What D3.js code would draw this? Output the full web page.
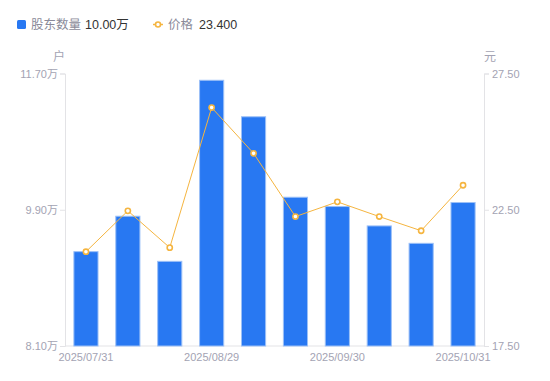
<!DOCTYPE html>
<html><head><meta charset="utf-8">
<script src="https://cdn.jsdelivr.net/npm/d3@7/dist/d3.min.js"></script>
<style>
body{margin:0;background:#fff;}
svg{display:block;font-family:"Liberation Sans","Noto Sans CJK SC",sans-serif;}
</style></head><body>
<svg id="c" width="550" height="381"></svg>
<script>
const categories = ["2025/07/31","2025/08/08","2025/08/20","2025/08/29","2025/09/10","2025/09/19","2025/09/30","2025/10/10","2025/10/20","2025/10/31"];
const holders = [9.353, 9.821, 9.225, 11.617, 11.135, 10.072, 9.949, 9.693, 9.463, 10.002]; // 万户
const prices = [20.96, 22.46, 21.11, 26.25, 24.57, 22.25, 22.79, 22.25, 21.73, 23.40];
const leftTicks = [8.10, 9.90, 11.70];
const rightTicks = [17.50, 22.50, 27.50];
const shownLabels = ["2025/07/31","2025/08/29","2025/09/30","2025/10/31"];

const svg = d3.select("#c");
const L = 65, R = 484, T = 73.5, B = 346;
const x = d3.scaleBand().domain(categories).range([L, R]).paddingInner(0.4).paddingOuter(0.2);
const yL = d3.scaleLinear().domain([8.10, 11.70]).range([B, T]);
const yR = d3.scaleLinear().domain([17.5, 27.5]).range([B, T]);
const axisCol = "#e3e3e6", labCol = "#a3a3b3";

// axes
const gl = svg.append("g").attr("transform", `translate(${L},0)`)
  .call(d3.axisLeft(yL).tickValues(leftTicks).tickSize(5).tickPadding(2).tickFormat(d => d3.format(".2f")(d) + "万"));
const gr = svg.append("g").attr("transform", `translate(${R},0)`)
  .call(d3.axisRight(yR).tickValues(rightTicks).tickSize(5).tickPadding(3).tickFormat(d3.format(".2f")));
const gb = svg.append("g").attr("transform", `translate(0,${B})`)
  .call(d3.axisBottom(x).tickValues(shownLabels).tickSize(0).tickPadding(7));
[gl, gr, gb].forEach(g => {
  g.selectAll("path").attr("stroke", axisCol);
  g.selectAll("line").attr("stroke", axisCol);
  g.selectAll("text").attr("fill", labCol).style("font-size", "11px").style("font-family", "'Liberation Sans',Arial,'Noto Sans CJK SC',sans-serif");
});
gb.select("path").attr("d", `M${L},0H${R}`);
gb.selectAll("text").attr("dy", "0.71em");

// unit labels
svg.append("text").attr("x", 59).attr("y", 61).attr("text-anchor", "middle").attr("fill", labCol).style("font-size", "12px").style("font-family", "'Noto Sans CJK SC',sans-serif").text("户");
svg.append("text").attr("x", 490).attr("y", 61).attr("text-anchor", "middle").attr("fill", labCol).style("font-size", "12px").style("font-family", "'Noto Sans CJK SC',sans-serif").text("元");

// bars
svg.append("g").selectAll("rect").data(categories).join("rect")
  .attr("x", d => x(d) + 0.5)
  .attr("y", (d, i) => yL(holders[i]) + 0.5)
  .attr("width", x.bandwidth() - 1)
  .attr("height", (d, i) => B - yL(holders[i]) - 0.5)
  .attr("fill", "#2878f2")
  .attr("stroke", "#9cc0f7").attr("stroke-width", 1);

// line
const cx = d => x(d) + x.bandwidth() / 2;
const line = d3.line().x((d, i) => cx(categories[i])).y(d => yR(d));
svg.append("path").datum(prices).attr("d", line).attr("fill", "none").attr("stroke", "#f5b540").attr("stroke-width", 1);
svg.append("g").selectAll("circle").data(prices).join("circle")
  .attr("cx", (d, i) => cx(categories[i])).attr("cy", d => yR(d)).attr("r", 2.6)
  .attr("fill", "#fff").attr("stroke", "#f5b540").attr("stroke-width", 1.6);

// legend
const lg = svg.append("g").style("font-size", "12.5px");
lg.append("rect").attr("x", 17).attr("y", 20).attr("width", 9).attr("height", 9).attr("rx", 1.5).attr("fill", "#2878f2");
lg.append("text").attr("x", 31).attr("y", 29).attr("fill", "#8a8a99").style("font-family", "'Noto Sans CJK SC',sans-serif").text("股东数量");
lg.append("text").attr("x", 85).attr("y", 29).attr("fill", "#333").text(d3.format(".2f")(holders[holders.length - 1]) + "万");
lg.append("line").attr("x1", 153).attr("x2", 163).attr("y1", 24.5).attr("y2", 24.5).attr("stroke", "#f5b540").attr("stroke-width", 1.5);
lg.append("circle").attr("cx", 158).attr("cy", 24.5).attr("r", 2.5).attr("fill", "#fff").attr("stroke", "#f5b540").attr("stroke-width", 1.6);
lg.append("text").attr("x", 168).attr("y", 29).attr("fill", "#8a8a99").style("font-family", "'Noto Sans CJK SC',sans-serif").text("价格");
lg.append("text").attr("x", 199).attr("y", 29).attr("fill", "#333").text(d3.format(".3f")(prices[prices.length - 1]));
</script></body></html>
